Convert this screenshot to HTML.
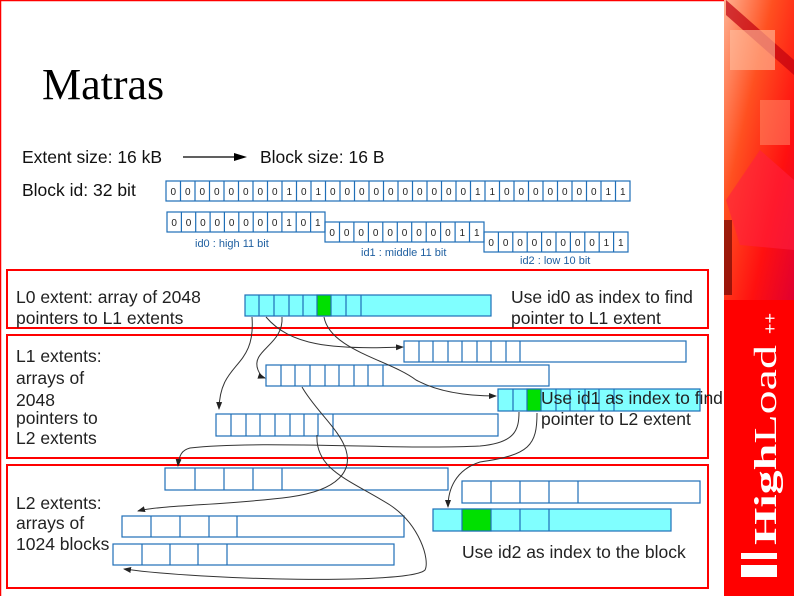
<!DOCTYPE html>
<html><head><meta charset="utf-8"><style>
html,body{margin:0;padding:0;background:#fff}
svg{display:block}
</style></head><body>
<svg width="794" height="596" viewBox="0 0 794 596" xmlns="http://www.w3.org/2000/svg" font-family="Liberation Sans, sans-serif">
<defs>
<marker id="ar" markerWidth="8" markerHeight="8" refX="7" refY="4" orient="auto" markerUnits="userSpaceOnUse"><path d="M0,1 L8,4 L0,7 z" fill="#222"/></marker>
<linearGradient id="rg" x1="0" y1="0" x2="1" y2="1"><stop offset="0" stop-color="#ffb090"/><stop offset="0.35" stop-color="#ff5020"/><stop offset="0.7" stop-color="#ff1010"/><stop offset="1" stop-color="#e00030"/></linearGradient>
</defs>
<rect x="0" y="0" width="794" height="596" fill="#fff"/>
<path d="M0.5,596 V0.5 H724" stroke="#f00" stroke-width="1.5" fill="none"/>
<!-- right panel -->
<rect x="724" y="0" width="70" height="596" fill="#f00"/>
<rect x="724" y="0" width="70" height="300" fill="url(#rg)"/>
<path d="M726,0 L794,60 L794,75 L726,15 z" fill="#c00010" opacity="0.7"/>
<rect x="730" y="30" width="45" height="40" fill="#ffc0a0" opacity="0.6"/>
<rect x="760" y="100" width="30" height="45" fill="#ff9070" opacity="0.5"/>
<path d="M726,200 L760,150 L794,180 L794,250 L740,245 z" fill="#ff2040" opacity="0.6"/>
<rect x="724" y="220" width="8" height="75" fill="#5a0000" opacity="0.6"/>
<text transform="translate(776,545) rotate(-90)" font-family="Liberation Serif, serif" font-size="32" fill="#fff" textLength="200" lengthAdjust="spacingAndGlyphs"><tspan font-weight="bold">High</tspan>Load</text>
<text transform="translate(776,334) rotate(-90)" font-size="18" fill="#fff">++</text>
<rect x="741" y="553" width="36" height="6" fill="#fff"/>
<rect x="741" y="565" width="36" height="12" fill="#fff"/>

<!-- title -->
<text x="42" y="99" font-family="Liberation Serif, serif" font-size="44" fill="#000">Matras</text>
<text x="22" y="163" font-size="17.5" fill="#111">Extent size: 16 kB</text>
<line x1="183" y1="157" x2="236" y2="157" stroke="#000" stroke-width="1.3"/>
<path d="M234,153 L247,157 L234,161 z" fill="#000"/>
<text x="260" y="163" font-size="17.5" fill="#111">Block size: 16 B</text>
<text x="22" y="196" font-size="17.5" fill="#111">Block id: 32 bit</text>

<!-- bit rows -->
<g stroke="#1f6fb8" stroke-width="1.2" fill="none">
<rect x="166" y="181" width="464" height="20"/>
<path d="M180.5,181V201M195,181V201M209.5,181V201M224,181V201M238.5,181V201M253,181V201M267.5,181V201M282,181V201M296.5,181V201M311,181V201M325.5,181V201M340,181V201M354.5,181V201M369,181V201M383.5,181V201M398,181V201M412.5,181V201M427,181V201M441.5,181V201M456,181V201M470.5,181V201M485,181V201M499.5,181V201M514,181V201M528.5,181V201M543,181V201M557.5,181V201M572,181V201M586.5,181V201M601,181V201M615.5,181V201"/>
<rect x="167" y="212" width="158" height="20"/>
<path d="M181.4,212V232M195.7,212V232M210.1,212V232M224.4,212V232M238.8,212V232M253.2,212V232M267.5,212V232M281.9,212V232M296.2,212V232M310.6,212V232"/>
<rect x="325" y="222" width="159" height="20"/>
<path d="M339.5,222V242M353.9,222V242M368.4,222V242M382.8,222V242M397.3,222V242M411.7,222V242M426.2,222V242M440.6,222V242M455.1,222V242M469.5,222V242"/>
<rect x="484" y="232" width="144" height="20"/>
<path d="M498.4,232V252M512.8,232V252M527.2,232V252M541.6,232V252M556,232V252M570.4,232V252M584.8,232V252M599.2,232V252M613.6,232V252"/>
</g>
<g font-size="10" fill="#222" text-anchor="middle">
<text y="195" x="173.3 187.8 202.3 216.8 231.3 245.8 260.3 274.8 289.3 303.8 318.3 332.8 347.3 361.8 376.3 390.8 405.3 419.8 434.3 448.8 463.3 477.8 492.3 506.8 521.3 535.8 550.3 564.8 579.3 593.8 608.3 622.8">00000000101000000000011000000011</text>
<text y="226" x="174.2 188.5 202.9 217.3 231.6 246 260.3 274.7 289 303.4 317.8">00000000101</text>
<text y="236" x="332.2 346.7 361.2 375.6 390.1 404.5 419 433.4 447.9 462.3 476.8">00000000011</text>
<text y="246" x="491.2 505.6 520 534.4 548.8 563.2 577.6 592 606.4 620.8">0000000011</text>
</g>
<g font-size="11" fill="#1f5fa0">
<text x="195" y="247">id0 : high 11 bit</text>
<text x="361" y="256">id1 : middle 11 bit</text>
<text x="520" y="264">id2 : low 10 bit</text>
</g>

<!-- red boxes -->
<g stroke="#f00" stroke-width="2" fill="none">
<rect x="7" y="270" width="701" height="58"/>
<rect x="7" y="335" width="701" height="123"/>
<rect x="7" y="465" width="701" height="123"/>
</g>

<!-- arrays -->
<g stroke="#1f6fb8" stroke-width="1.2">
<rect x="245" y="295" width="246" height="21" fill="#80ffff"/>
<rect x="317" y="295" width="14" height="21" fill="#00e000"/>
<path d="M259,295V316M274,295V316M289,295V316M303,295V316M346,295V316M361,295V316" fill="none"/>

<rect x="404" y="341" width="282" height="21" fill="#fff"/>
<path d="M419,341V362M433,341V362M448,341V362M462,341V362M477,341V362M491,341V362M506,341V362M520,341V362" fill="none"/>

<rect x="266" y="365" width="283" height="21" fill="#fff"/>
<path d="M281,365V386M295,365V386M310,365V386M325,365V386M339,365V386M354,365V386M368,365V386M383,365V386" fill="none"/>

<rect x="498" y="389" width="202" height="22" fill="#80ffff"/>
<rect x="527" y="389" width="14" height="22" fill="#00e000"/>
<path d="M513,389V411M556,389V411M570,389V411M585,389V411M599,389V411M614,389V411" fill="none"/>

<rect x="216" y="414" width="282" height="22" fill="#fff"/>
<path d="M231,414V436M246,414V436M260,414V436M275,414V436M290,414V436M304,414V436M318,414V436M333,414V436" fill="none"/>

<rect x="165" y="468" width="283" height="22" fill="#fff"/>
<path d="M195,468V490M224,468V490M253,468V490M282,468V490" fill="none"/>

<rect x="462" y="481" width="238" height="22" fill="#fff"/>
<path d="M491,481V503M520,481V503M549,481V503M578,481V503" fill="none"/>

<rect x="433" y="509" width="238" height="22" fill="#80ffff"/>
<rect x="462" y="509" width="29" height="22" fill="#00e000"/>
<path d="M520,509V531M549,509V531" fill="none"/>

<rect x="122" y="516" width="282" height="21" fill="#fff"/>
<path d="M151,516V537M180,516V537M209,516V537M237,516V537" fill="none"/>

<rect x="113" y="544" width="281" height="21" fill="#fff"/>
<path d="M142,544V565M170,544V565M198,544V565M227,544V565" fill="none"/>
</g>

<!-- connectors -->
<g stroke="#333" stroke-width="1" fill="none" marker-end="url(#ar)">
<path d="M252,317 C256,370 220,360 219,409"/>
<path d="M266,317 C290,345 330,350 403,347"/>
<path d="M282,317 C284,345 250,350 258,370 C260,375 262,377 265,378"/>
<path d="M324,317 C330,350 390,360 416,380 C440,393 470,396 496,396"/>
<path d="M519,412 C519,430 515,443 480,446 C400,450 260,440 190,448 C182,450 179,455 178,466"/>
<path d="M537,413 C537,445 530,455 480,462 C455,470 448,490 448,507"/>
<path d="M302,387 C315,410 340,430 346,450 C352,470 340,490 290,497 C230,505 160,505 138,511"/>
<path d="M317,435 C315,470 350,480 390,505 C420,525 430,560 425,570 C410,585 200,580 124,569"/>
</g>

<!-- labels -->
<g font-size="17.5" fill="#222">
<text x="16" y="303">L0 extent: array of 2048</text>
<text x="16" y="324">pointers to L1 extents</text>
<text x="511" y="303">Use id0 as index to find</text>
<text x="511" y="324">pointer to L1 extent</text>
<text x="16" y="362">L1 extents:</text>
<text x="16" y="384">arrays of</text>
<text x="16" y="406">2048</text>
<text x="16" y="424">pointers to</text>
<text x="16" y="444">L2 extents</text>
<text x="541" y="404">Use id1 as index to find</text>
<text x="541" y="425">pointer to L2 extent</text>
<text x="16" y="509">L2 extents:</text>
<text x="16" y="529">arrays of</text>
<text x="16" y="550">1024 blocks</text>
<text x="462" y="558">Use id2 as index to the block</text>
</g>
</svg>
</body></html>
